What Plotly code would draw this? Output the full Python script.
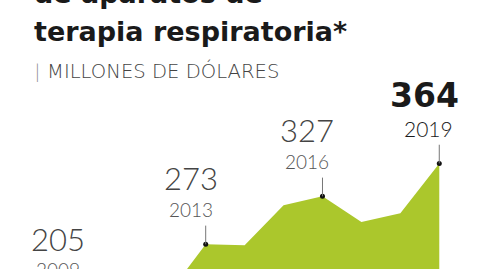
import plotly.graph_objects as go

years = [2009, 2010, 2011, 2012, 2013, 2014, 2015, 2016, 2017, 2018, 2019]
values = [205, 208, 220, 215, 273, 272, 317, 327, 298, 308, 364]
labeled_years = [2009, 2013, 2016, 2019]
title_lines = ["de aparatos de", "terapia respiratoria*"]
subtitle = "MILLONES DE DÓLARES"

W, H = 480, 269
GREEN = "#abc72c"
XR = [2007.716, 2020.046]
YR = [245.2, 547.8]

def py(px):
    return 1 - px / H

def xpaper(x):
    return (x - XR[0]) / (XR[1] - XR[0])

def ypaper(y):
    return (y - YR[0]) / (YR[1] - YR[0])

fig = go.Figure()
fig.add_trace(go.Scatter(x=years, y=values, mode="lines", line=dict(width=0, color=GREEN),
                         fill="tozeroy", fillcolor=GREEN, hoverinfo="skip"))
lab_vals = [values[years.index(y)] for y in labeled_years]
fig.add_trace(go.Scatter(x=labeled_years, y=lab_vals, mode="markers",
                         marker=dict(size=5, color="#111111"), hoverinfo="skip"))

shapes = []
annotations = []
for yr, v in zip(labeled_years, lab_vals):
    shapes.append(dict(type="line", x0=yr, x1=yr, y0=v, y1=v + 21, xref="x", yref="y",
                       line=dict(color="#777777", width=1)))
    last = yr == labeled_years[-1]
    dx = 8 if yr == labeled_years[0] else (-11 if last else -15)
    common = dict(x=xpaper(yr), y=ypaper(v), xref="paper", yref="paper", showarrow=False,
                  xanchor="center", yanchor="middle", xshift=dx)
    annotations.append(dict(common, text=str(v), yshift=66 if not last else 68, xshift=dx - (4 if last else 0),
                            font=dict(family="DejaVu Sans" if last else "Lato",
                                      size=33 if last else 31,
                                      weight=700 if last else 300,
                                      color="#1a1a1a" if last else "#444444")))
    annotations.append(dict(common, text=str(yr), yshift=35,
                            font=dict(family="Lato", size=21 if last else 19,
                                      weight=300,
                                      color="#1a1a1a" if last else "#555555")))

TFONT = dict(family="DejaVu Sans", size=27, weight=700, color="#1a1a1a")
annotations.append(dict(x=32 / W, y=py(-6), xref="paper", yref="paper", text=title_lines[0],
                        showarrow=False, xanchor="left", yanchor="middle", font=TFONT))
annotations.append(dict(x=32 / W, y=py(31), xref="paper", yref="paper", text=title_lines[1],
                        showarrow=False, xanchor="left", yanchor="middle", font=TFONT))
annotations.append(dict(x=33 / W, y=py(71), xref="paper", yref="paper", text="|",
                        showarrow=False, xanchor="left", yanchor="middle",
                        font=dict(family="Lato", size=20, weight=300, color="#888888")))
annotations.append(dict(x=45 / W, y=py(71), xref="paper", yref="paper", text=subtitle,
                        showarrow=False, xanchor="left", yanchor="middle",
                        font=dict(family="DejaVu Sans", size=19.6, weight=200, color="#444444")))

fig.update_layout(
    width=W, height=H, margin=dict(l=0, r=0, t=0, b=0),
    paper_bgcolor="white", plot_bgcolor="white", showlegend=False,
    xaxis=dict(range=XR, visible=False, fixedrange=True),
    yaxis=dict(range=YR, visible=False, fixedrange=True),
    shapes=shapes, annotations=annotations,
)
fig.write_html("out.html", config={"displayModeBar": False})
